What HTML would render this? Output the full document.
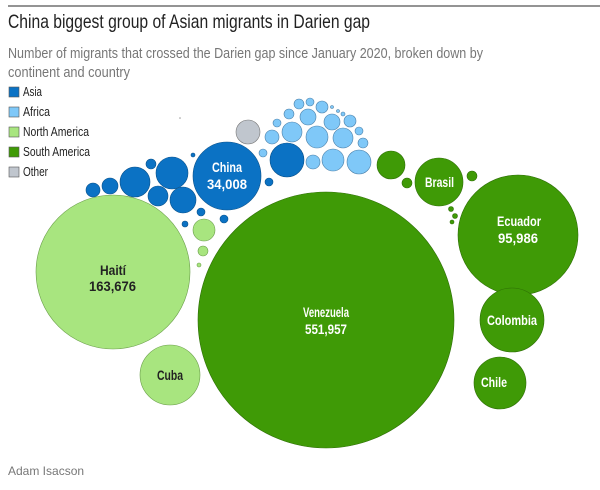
<!DOCTYPE html>
<html><head><meta charset="utf-8"><style>
body{margin:0;background:#fff;width:600px;height:490px;overflow:hidden;font-family:"Liberation Sans",sans-serif}
svg{position:absolute;left:0;top:0}
.l{font-family:"Liberation Sans",sans-serif;fill:#fff;font-weight:bold;font-size:13.5px}
</style></head><body>
<svg width="600" height="490" xmlns="http://www.w3.org/2000/svg">
<line x1="8" y1="6" x2="600" y2="6" stroke="#555" stroke-width="1.2"/>
<text x="8" y="28" font-size="19.5" fill="#222" textLength="362" lengthAdjust="spacingAndGlyphs">China biggest group of Asian migrants in Darien gap</text>
<text x="8" y="58" font-size="14.6" fill="#777" textLength="475" lengthAdjust="spacingAndGlyphs">Number of migrants that crossed the Darien gap since January 2020, broken down by</text>
<text x="8" y="77" font-size="14.6" fill="#777" textLength="122" lengthAdjust="spacingAndGlyphs">continent and country</text>
<g font-size="12.5" fill="#222">
<rect x="9" y="87" width="10" height="10" fill="#0b72c4" stroke="#555" stroke-width="0.6"/><text x="23" y="96" textLength="19" lengthAdjust="spacingAndGlyphs">Asia</text>
<rect x="9" y="107" width="10" height="10" fill="#7fc8f8" stroke="#555" stroke-width="0.6"/><text x="23" y="116" textLength="27" lengthAdjust="spacingAndGlyphs">Africa</text>
<rect x="9" y="127" width="10" height="10" fill="#a8e57f" stroke="#555" stroke-width="0.6"/><text x="23" y="136" textLength="66" lengthAdjust="spacingAndGlyphs">North America</text>
<rect x="9" y="147" width="10" height="10" fill="#3f9a06" stroke="#555" stroke-width="0.6"/><text x="23" y="156" textLength="67" lengthAdjust="spacingAndGlyphs">South America</text>
<rect x="9" y="167" width="10" height="10" fill="#c0c6ce" stroke="#555" stroke-width="0.6"/><text x="23" y="176" textLength="25" lengthAdjust="spacingAndGlyphs">Other</text>
</g>
<g fill="#3f9a06" stroke="#2d6e05" stroke-width="0.6">
<circle cx="326" cy="320" r="128"/>
<circle cx="518" cy="235" r="60"/>
<circle cx="512" cy="320" r="32"/>
<circle cx="500" cy="383" r="26"/>
<circle cx="439" cy="182" r="24"/>
<circle cx="391" cy="165" r="14"/>
<circle cx="407" cy="183" r="5"/>
<circle cx="472" cy="176" r="5"/>
<circle cx="451" cy="209" r="2.5"/><circle cx="455" cy="216" r="2.5"/><circle cx="452" cy="222" r="2"/>
</g>
<g fill="#a8e57f" stroke="#6a9e4a" stroke-width="0.6">
<circle cx="113" cy="272" r="77"/>
<circle cx="170" cy="375" r="30"/>
<circle cx="204" cy="230" r="11"/>
<circle cx="203" cy="251" r="5"/>
<circle cx="199" cy="265" r="2"/>
</g>
<g fill="#0b72c4" stroke="#08508a" stroke-width="0.6">
<circle cx="227" cy="176" r="34"/>
<circle cx="287" cy="160" r="17"/>
<circle cx="172" cy="173" r="16"/>
<circle cx="135" cy="182" r="15"/>
<circle cx="183" cy="200" r="13"/>
<circle cx="158" cy="196" r="10"/>
<circle cx="110" cy="186" r="8"/>
<circle cx="93" cy="190" r="7"/>
<circle cx="151" cy="164" r="5"/>
<circle cx="201" cy="212" r="4"/>
<circle cx="224" cy="219" r="4"/>
<circle cx="185" cy="224" r="3"/>
<circle cx="269" cy="182" r="4"/>
<circle cx="193" cy="155" r="2"/>
</g>
<circle cx="248" cy="132" r="12" fill="#c0c6ce" stroke="#777" stroke-width="0.6"/>
<g fill="#7fc8f8" stroke="#4a7fa8" stroke-width="0.6">
<circle cx="310" cy="102" r="4"/><circle cx="299" cy="104" r="5"/><circle cx="322" cy="107" r="6"/>
<circle cx="332" cy="107" r="1.5"/><circle cx="338" cy="111" r="1.5"/><circle cx="343" cy="114" r="2"/>
<circle cx="289" cy="114" r="5"/><circle cx="308" cy="117" r="8"/><circle cx="332" cy="122" r="8"/>
<circle cx="350" cy="121" r="6"/><circle cx="277" cy="123" r="4"/><circle cx="292" cy="132" r="10"/>
<circle cx="317" cy="137" r="11"/><circle cx="343" cy="138" r="10"/><circle cx="359" cy="131" r="4"/>
<circle cx="272" cy="137" r="7"/><circle cx="363" cy="143" r="5"/><circle cx="263" cy="153" r="4"/>
<circle cx="313" cy="162" r="7"/><circle cx="333" cy="160" r="11"/><circle cx="359" cy="162" r="12"/>
</g>
<circle cx="180" cy="118" r="0.8" fill="#999"/>
<text class="l" x="212" y="172" textLength="30" lengthAdjust="spacingAndGlyphs">China</text>
<text class="l" x="207" y="189" textLength="40" lengthAdjust="spacingAndGlyphs">34,008</text>
<text class="l" x="100" y="275" style="fill:#222" textLength="26" lengthAdjust="spacingAndGlyphs">Haití</text>
<text class="l" x="89" y="291" style="fill:#222" textLength="47" lengthAdjust="spacingAndGlyphs">163,676</text>
<text class="l" x="303" y="317" textLength="46" lengthAdjust="spacingAndGlyphs">Venezuela</text>
<text class="l" x="305" y="334" textLength="42" lengthAdjust="spacingAndGlyphs">551,957</text>
<text class="l" x="497" y="226" textLength="44" lengthAdjust="spacingAndGlyphs">Ecuador</text>
<text class="l" x="498" y="243" textLength="40" lengthAdjust="spacingAndGlyphs">95,986</text>
<text class="l" x="425" y="187" textLength="29" lengthAdjust="spacingAndGlyphs">Brasil</text>
<text class="l" x="487" y="325" textLength="50" lengthAdjust="spacingAndGlyphs">Colombia</text>
<text class="l" x="481" y="387" textLength="26" lengthAdjust="spacingAndGlyphs">Chile</text>
<text class="l" x="157" y="380" style="fill:#222" textLength="26" lengthAdjust="spacingAndGlyphs">Cuba</text>
<text x="8" y="475" font-size="12" fill="#777">Adam Isacson</text>
</svg>
</body></html>
